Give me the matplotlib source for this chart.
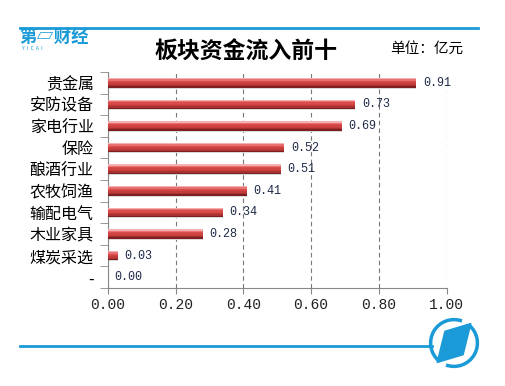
import matplotlib
matplotlib.use('Agg')
import matplotlib.pyplot as plt
from matplotlib.patches import Arc, Polygon
import numpy as np

plt.rcParams['font.family'] = ['Noto Sans CJK SC', 'DejaVu Sans']

sectors = ['贵金属', '安防设备', '家电行业', '保险', '酿酒行业', '农牧饲渔', '输配电气', '木业家具', '煤炭采选', '-']
inflow = [0.91, 0.73, 0.69, 0.52, 0.51, 0.41, 0.34, 0.28, 0.03, 0.00]
xticks = [0.0, 0.2, 0.4, 0.6, 0.8, 1.0]

W, H = 505, 386
fig = plt.figure(figsize=(W / 100, H / 100), dpi=100)

def px(x, y):   # pixel -> figure fraction
    return x / W, 1 - y / H

blue = '#1a9ad6'

# top / bottom rules
fig.add_artist(plt.Line2D([20 / W, 478 / W], [1 - 28 / H, 1 - 28 / H], color=blue, lw=2))
fig.add_artist(plt.Line2D([20 / W, 432 / W], [1 - 346 / H, 1 - 346 / H], color=blue, lw=2))

# logo top left
fig.text(*px(19, 37), '第▱财经', color=blue, fontsize=12.5, fontweight='bold', va='center', ha='left')
fig.text(*px(22, 48), 'Y  I  C  A  I', color=blue, fontsize=3.5, va='center', ha='left')

fig.text(*px(246, 52), '板块资金流入前十', fontsize=16.5, fontweight='bold', ha='center', va='center')
fig.text(*px(390, 49), '单位：亿元', fontsize=10.5, ha='left', va='center')

ax = fig.add_axes([107.7 / W, 1 - 288 / H, (446.7 - 107.7) / W, (288 - 72) / H])
y = np.arange(len(sectors))

# cylinder look: stacked stripes from top (light) to bottom (dark)
h = 0.44
stripes = ['#f4b0b0', '#e87070', '#d84c4c', '#d04444', '#c23c3c', '#a83030', '#7e2020']
sh = h / len(stripes)
ax.barh(y + 0.05, inflow, height=h, color='#d9d9d9', zorder=2)  # soft shadow
for i, c in enumerate(stripes):
    ax.barh(y - h / 2 + sh * (i + 0.5), inflow, height=sh * 1.05, color=c, lw=0, zorder=3)

for yi, v in zip(y, inflow):
    ax.text(v + 0.02, yi, f'{v:.2f}', family='Liberation Mono', fontsize=8.5,
            color='#1e2a48', va='center', ha='left', zorder=5)

ax.set_xlim(0, 1.0)
ax.set_ylim(len(sectors) - 0.5, -0.5)
ax.set_xticks(xticks)
ax.set_xticklabels([f'{t:.2f}' for t in xticks], family='Liberation Mono', fontsize=10.5, color='#222222')
ax.set_yticks(y)
ax.set_yticklabels(sectors, fontsize=11.5)
ax.set_yticks(np.arange(-0.5, len(sectors), 1), minor=True)
ax.tick_params(axis='y', which='major', length=0, pad=10)
ax.tick_params(axis='y', which='minor', length=6, color='#888888', direction='out')
ax.tick_params(axis='x', length=4, color='#888888', pad=3)
ax.xaxis.grid(True, linestyle=(0, (4, 3)), color='#777777', lw=0.8, zorder=0)
ax.set_axisbelow(True)
for s in ['top', 'right']:
    ax.spines[s].set_visible(False)
for s in ['left', 'bottom']:
    ax.spines[s].set_color('#888888')

# bottom right logo
lax = fig.add_axes([428 / W, 1 - 369 / H, 52 / W, 52 / H])
lax.set_xlim(-1, 1)
lax.set_ylim(-1, 1)
lax.set_aspect('equal')
lax.axis('off')
lax.add_patch(Arc((0, 0), 1.8, 1.8, theta1=70, theta2=230, color=blue, lw=2.5))
lax.add_patch(Arc((0, 0), 1.8, 1.8, theta1=250, theta2=50, color=blue, lw=2.5))
lax.add_patch(Polygon([[-0.35, 0.45], [0.65, 0.75], [0.35, -0.45], [-0.65, -0.75]], color=blue))

fig.savefig('out.png', dpi=100)
